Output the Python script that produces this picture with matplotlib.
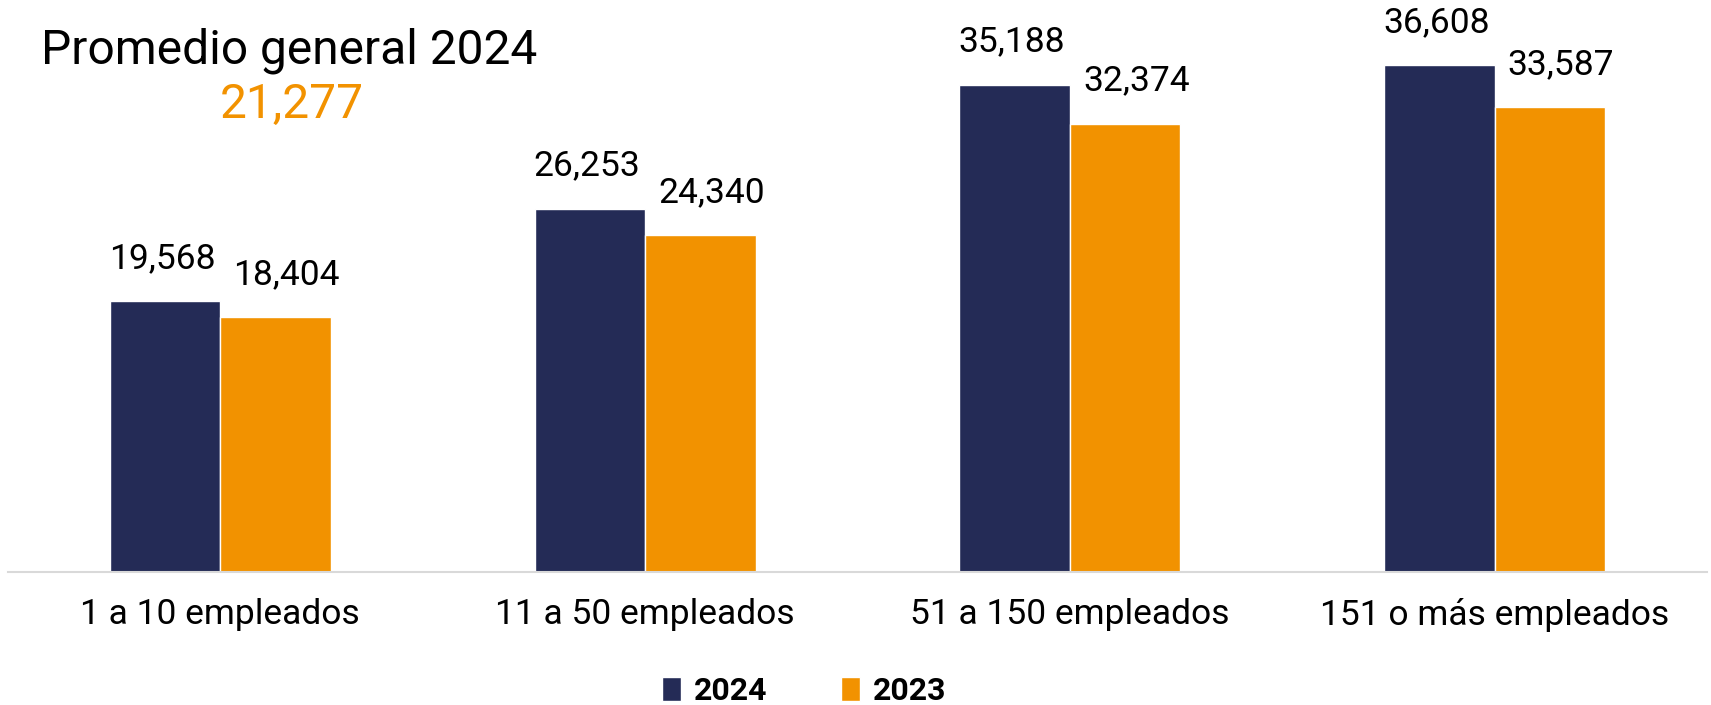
import numpy as np
import matplotlib.pyplot as plt

plt.rcParams['font.family'] = ['Roboto', 'DejaVu Sans']

# datos
categorias = ['1 a 10 empleados', '11 a 50 empleados', '51 a 150 empleados', '151 o más empleados']
valores_2024 = [19568, 26253, 35188, 36608]
valores_2023 = [18404, 24340, 32374, 33587]
promedio_general = 21277

azul = '#242b56'
naranja = '#f29200'

fig = plt.figure(figsize=(17.11, 7.05), dpi=100)
ax = fig.add_axes([8 / 1711, 133 / 705, 1699 / 1711, 572 / 705])

x = np.arange(len(categorias))
ancho = 0.26
b1 = ax.bar(x - ancho / 2, valores_2024, ancho, color=azul, edgecolor='white', linewidth=1, label='2024')
b2 = ax.bar(x + ancho / 2, valores_2023, ancho, color=naranja, edgecolor='white', linewidth=1, label='2023')

# etiquetas de valores (las de 2023 van un poco corridas a la derecha)
for barras, dx in ((b1, -2), (b2, 8)):
    for b in barras:
        ax.annotate(f'{b.get_height():,.0f}', (b.get_x() + b.get_width() / 2, b.get_height()),
                    xytext=(dx, 24), textcoords='offset points', ha='center', va='baseline',
                    fontsize=25.5, color='black', annotation_clip=False)

ax.set_xlim(-0.5, 3.5)
ax.set_ylim(0, 41330)
ax.set_xticks(x)
ax.set_xticklabels(categorias, fontsize=25.5)
ax.tick_params(axis='x', length=0, pad=19)
ax.set_yticks([])
for s in ['top', 'right', 'left']:
    ax.spines[s].set_visible(False)
ax.spines['bottom'].set_color('#d9d9d9')
ax.spines['bottom'].set_linewidth(1.5)

# titulo
fig.text(289 / 1711, 1 - 63 / 705, 'Promedio general 2024', ha='center', va='baseline', fontsize=34.5)
fig.text(292 / 1711, 1 - 118 / 705, f'{promedio_general:,}', ha='center', va='baseline',
         fontsize=34.5, color=naranja)

fig.legend(loc='center', bbox_to_anchor=(804 / 1711, 1 - 691 / 705), ncol=2, frameon=False,
           prop={'size': 23, 'weight': 'bold'}, handlelength=0.6, handleheight=0.75,
           handletextpad=0.4, columnspacing=2.3)

fig.savefig('out.png', dpi=100)
